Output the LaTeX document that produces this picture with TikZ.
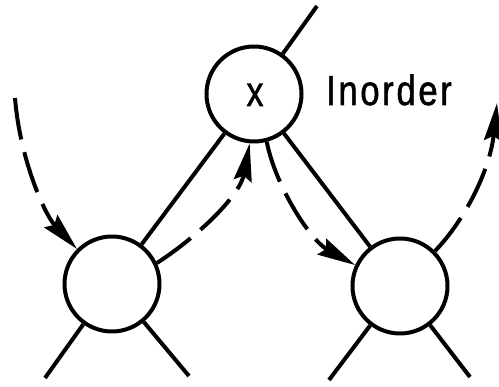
\documentclass[tikz,border=0pt]{standalone}
\usepackage{fontspec}
\usetikzlibrary{arrows.meta}
\newfontfamily\lblfont[LetterSpace=8,FakeBold=1.5]{Liberation Sans}
\newfontfamily\varfont[FakeBold=1.5]{Liberation Sans}
\begin{document}
\begin{tikzpicture}[x=1pt,y=-1pt,
  treenode/.style={circle,draw,line width=4pt,minimum size=95pt,inner sep=0pt},
  treeedge/.style={line width=4pt},
  walk/.style={line width=4pt,dash pattern=on 42pt off 13pt,
    -{Stealth[length=38pt,width=18pt,inset=5pt]}},
  lbl/.style={inner sep=0pt,font=\fontsize{42}{50}\selectfont}]
\useasboundingbox (0,0) rectangle (499,387);
\node[treenode] (top) at (254,94) {};
\node[treenode] (left) at (112,284) {};
\node[treenode] (right) at (400,286) {};
\node[lbl,anchor=base] (xlab) at (255,106) {\scalebox{0.8}[1]{\varfont x}};
\node[lbl,anchor=base west] (title) at (326,105) {\scalebox{0.82}[1]{\lblfont Inorder}};
\coordinate (up) at (317,6);
\coordinate (ll) at (45,378);
\coordinate (lr) at (189,376);
\coordinate (rl) at (329,380);
\coordinate (rr) at (470,377);
\coordinate (in) at (15,98);
\coordinate (out) at (497,103);
\draw[treeedge] (top) -- (up);
\draw[treeedge] (top) -- (left);
\draw[treeedge] (top) -- (right);
\draw[treeedge] (left) -- (ll);
\draw[treeedge] (left) -- (lr);
\draw[treeedge] (right) -- (rl);
\draw[treeedge] (right) -- (rr);
\draw[walk] (in) .. controls (20,160) and (45,215) .. (left.135);
\draw[walk] (left.25) .. controls (200,235) and (240,195) .. (top.265);
\draw[walk] (top.285) .. controls (275,185) and (310,240) .. (right.155);
\draw[walk] (right.45) .. controls (465,220) and (490,170) .. (out);
\end{tikzpicture}
\end{document}
